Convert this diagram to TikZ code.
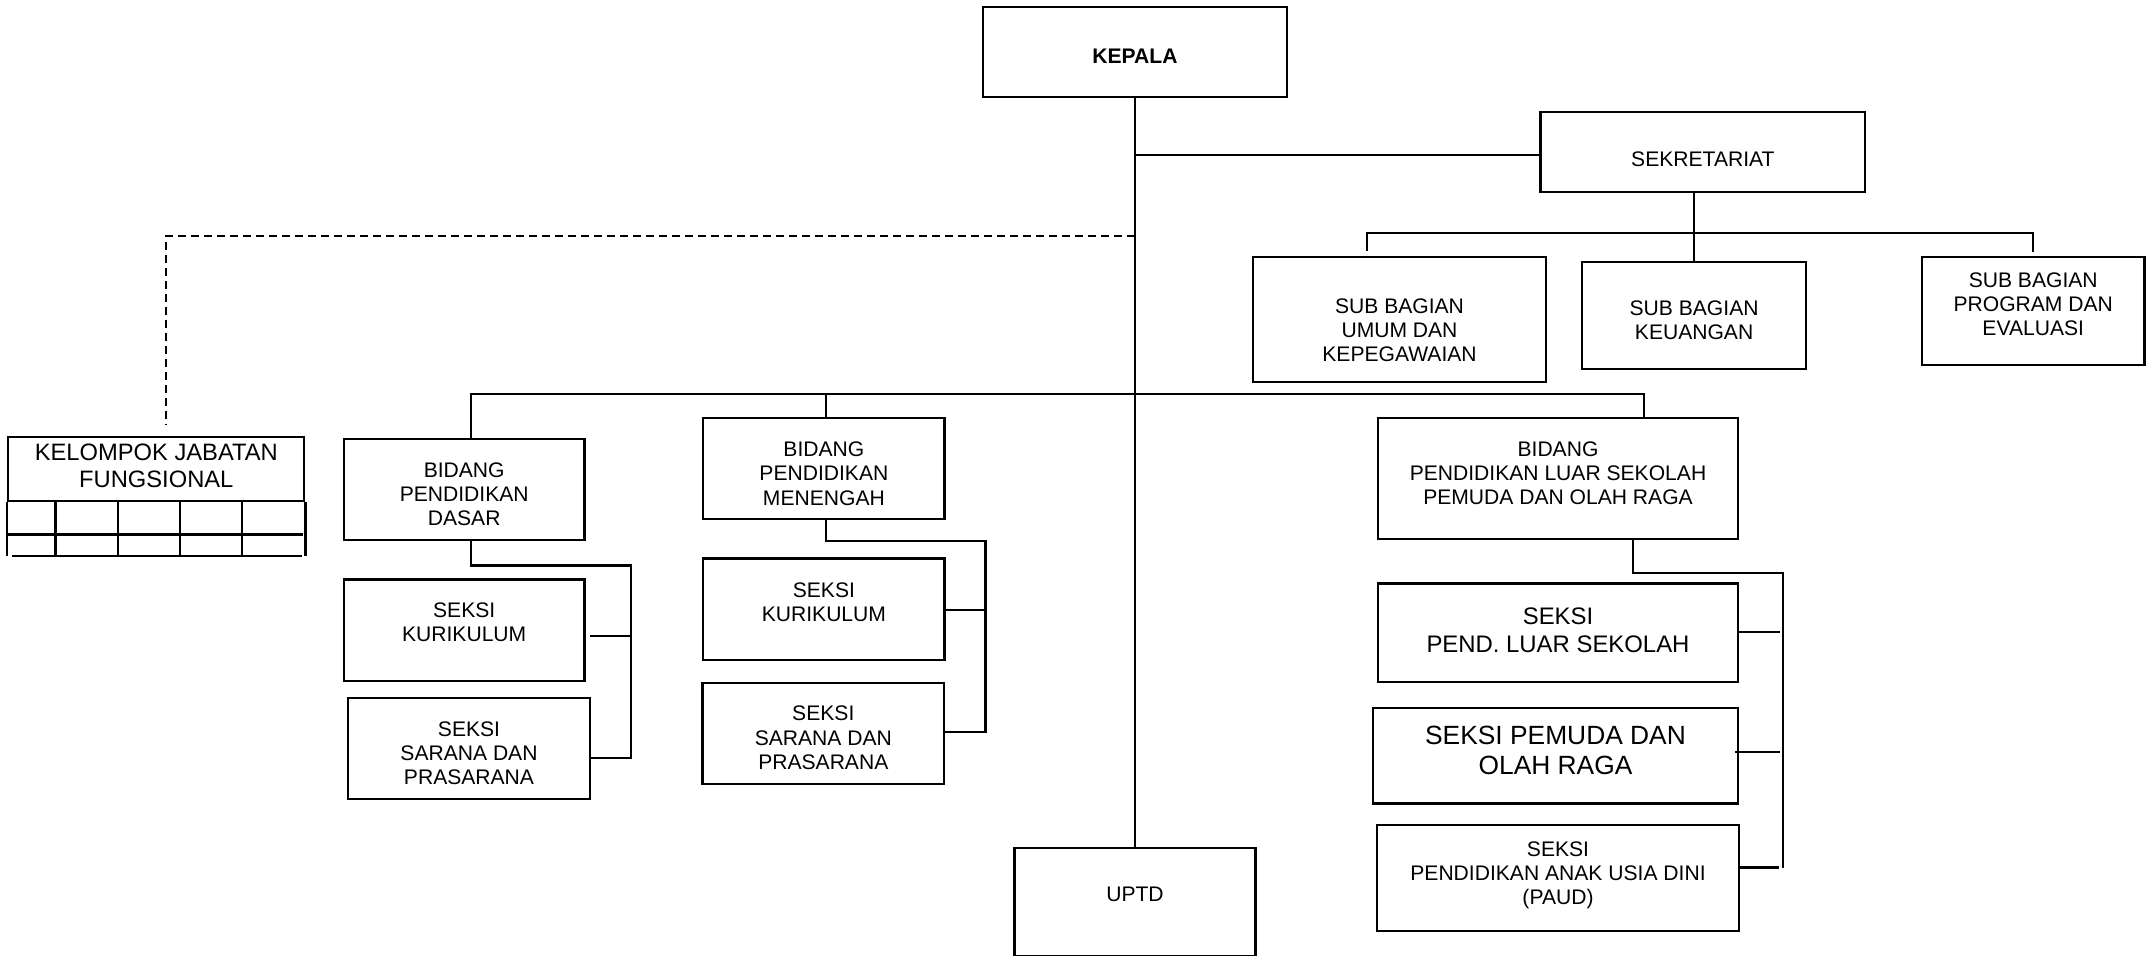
\documentclass[tikz,border=0pt]{standalone}
\usepackage{fontspec}
\setmainfont{Liberation Sans}
\newcommand{\tx}[2]{\raisebox{#1}[\height][\depth]{\begin{tabular}{@{}c@{}}#2\end{tabular}}}

\begin{document}
\begin{tikzpicture}[x=0.2mm, y=-0.2mm, line width=1.3pt,
  box/.style={draw, align=center, inner sep=0pt, font=\fontsize{12}{13.8}\selectfont},
  wh/.style 2 args={minimum width=#1*0.2mm, minimum height=#2*0.2mm},
  dashln/.style={dash pattern=on 1.6mm off 1mm}]
\useasboundingbox (0,0) rectangle (2146,955);
% \draw [help lines,color=green] (0,0) grid (2146,955);
%%%%%%%%%
\node [box, wh={304.3}{89.4}, font=\bfseries\fontsize{12}{13.8}\selectfont] (K) at (1135,52) {\tx{-1.34mm}{KEPALA}};
\node [box, wh={324.7}{80}] (S) at (1702.9,151.8) {\tx{-1.94mm}{SEKRETARIAT}};
\node [box, wh={293.5}{124.7}] (S1) at (1399.5,319.7) {\tx{-2.54mm}{SUB BAGIAN\\UMUM DAN\\KEPEGAWAIAN}};
\node [box, wh={224.2}{107}] (S2) at (1694.1,315.2) {\tx{-1.54mm}{SUB BAGIAN\\KEUANGAN}};
\node [box, wh={222.8}{108.3}] (S3) at (2033.2,310.8) {\tx{0.86mm}{SUB BAGIAN\\PROGRAM DAN\\EVALUASI}};
\node [box, wh={296}{64}, font=\fontsize{13.5}{15.9}\selectfont] (J) at (156.3,468.7) {\tx{0.06mm}{KELOMPOK JABATAN\\FUNGSIONAL}};
\node [box, wh={240.6}{101.3}] (B1) at (464.2,489.4) {\tx{-1.44mm}{BIDANG\\PENDIDIKAN\\DASAR}};
\node [box, wh={240.6}{101.7}] (B1a) at (464.2,630.2) {\tx{1.06mm}{SEKSI\\KURIKULUM}};
\node [box, wh={241.5}{101.6}] (B1b) at (469,748.5) {\tx{-1.44mm}{SEKSI\\SARANA DAN\\PRASARANA}};
\node [box, wh={241.2}{101.3}] (B2) at (823.9,468.4) {\tx{-1.54mm}{BIDANG\\PENDIDIKAN\\MENENGAH}};
\node [box, wh={241.2}{101.7}] (B2a) at (823.9,609.2) {\tx{0.86mm}{SEKSI\\KURIKULUM}};
\node [box, wh={241.5}{101.6}] (B2b) at (823.3,733.5) {\tx{-1.34mm}{SEKSI\\SARANA DAN\\PRASARANA}};
\node [box, wh={360.6}{121.4}] (B3) at (1558,478.4) {\tx{0.56mm}{BIDANG\\PENDIDIKAN LUAR SEKOLAH\\PEMUDA DAN OLAH RAGA}};
\node [box, wh={360.6}{98.7}, font=\fontsize{13.6}{15.9}\selectfont] (B3a) at (1558,632.8) {\tx{0.06mm}{SEKSI\\PEND. LUAR SEKOLAH}};
\node [box, wh={365.6}{95.5}, font=\fontsize{15}{17}\selectfont] (B3b) at (1555.5,755.75) {\tx{0.5mm}{SEKSI PEMUDA DAN\\OLAH RAGA}};
\node [box, wh={362.6}{106.2}] (B3c) at (1558,877.9) {\tx{0.46mm}{SEKSI\\PENDIDIKAN ANAK USIA DINI\\(PAUD)}};
\node [box, wh={241}{108.3}] (U) at (1135,901.9) {\tx{0.96mm}{UPTD}};
%%%%%%%%%
\draw (K.south) -- (U.north);
\draw (K.south |- 0,155) -- (S.west |- 0,155);
\draw [dashln] (K.south |- 0,236) -| ([xshift=1.9mm, yshift=2.3mm]J.north);
% sekretariat
\draw (S2.north) -- (S2.north |- S.south);
\draw ([xshift=-6.5mm, yshift=1.1mm]S1.north) |- ([yshift=4.5mm]S3.north) -- ([yshift=0.75mm]S3.north);
% bidang
\draw ([xshift=1.35mm]B1.north) |- ([xshift=17.2mm, yshift=4.5mm]B3.north) -- ([xshift=17.2mm]B3.north);
\draw ([xshift=0.4mm]B2.north) -- ([xshift=0.4mm, yshift=4.5mm]B2.north);
\draw ([xshift=1.35mm]B1.south) |- ++(160,24.3) -- ++(0,191.7);
\draw ([xshift=0.9mm, yshift=-1.1mm]B1a.east) -- +(42,0);
\draw ([yshift=-1.95mm]B1b.east) -- +(41.2,0);
\draw ([xshift=0.4mm]B2.south) |- ++(159.6,21) -- ++(0,191.7);
\draw ([yshift=-0.15mm]B2a.east) -- +(41.1,0);
\draw ([yshift=0.35mm]B2b.east) -- +(41.6,0);
\draw ([xshift=15.06mm]B3.south) |- ++(149.4,32.5) -- ++(0,295);
\draw ([xshift=-0.3mm, yshift=0.18mm]B3a.east) -- +(41.6,0);
\draw ([xshift=-0.85mm, yshift=0.7mm]B3b.east) -- +(44.3,0);
\draw ([yshift=2.1mm]B3c.east) -- +(39,0);
% jabatan fungsional
\draw (J.south west) -- ++(0,54.3) (J.south east) -- ++(0,54.3);
\draw (J.south west) ++(0,32.6) -- ++(296,0);
\draw ([xshift=0.95mm]J.south west) ++(0,54.3) -- ++(290,0);
\foreach \c in {48.4,110.7,172.7,234.7}
  \draw (J.south west) ++(\c,0) -- ++(0,54.3);
\end{tikzpicture}
\end{document}
